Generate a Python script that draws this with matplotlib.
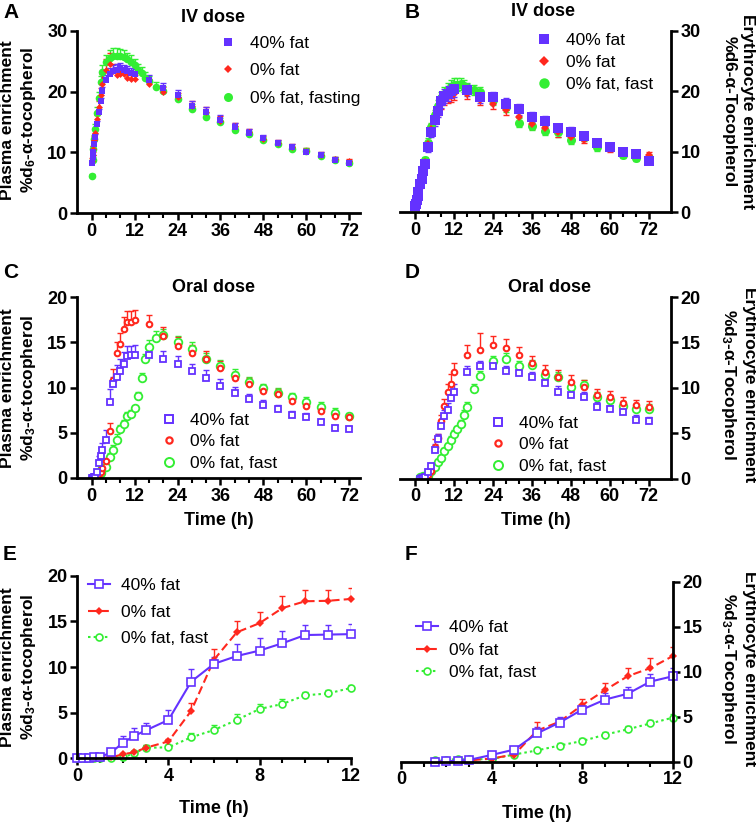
import numpy as np
import matplotlib
matplotlib.use("Agg")
import matplotlib.pyplot as plt
from matplotlib.lines import Line2D

plt.rcParams['font.family'] = ['Liberation Sans', 'DejaVu Sans']
plt.rcParams['mathtext.fontset'] = 'custom'
plt.rcParams['mathtext.rm'] = 'Liberation Sans:bold'
plt.rcParams['mathtext.it'] = 'Liberation Sans:bold:italic'
plt.rcParams['mathtext.bf'] = 'Liberation Sans:bold'
plt.rcParams['mathtext.default'] = 'rm'

# ── Time points (h) ───────────────────────────────────────────
t_main = [0, 0.25, 0.5, 0.75, 1, 1.5, 2, 2.5, 3, 4, 5, 6, 7, 8, 9, 10, 11, 12,
          16, 20, 24, 28, 32, 36, 40, 44, 48, 52, 56, 60, 64, 68, 72]
t_fast = [0, 0.25, 0.5, 0.75, 1, 1.5, 2, 2.5, 3, 4, 5, 6, 7, 8, 9, 10, 11, 12,
          13, 14, 15, 16, 18, 20, 24, 28, 32, 36, 40, 44, 48, 52, 56, 60, 64, 68, 72]
t_ery = [1.5, 2, 2.5, 3, 4, 5, 6, 7, 8, 9, 10, 11, 12,
         16, 20, 24, 28, 32, 36, 40, 44, 48, 52, 56, 60, 64, 68, 72]
t_ery_fast = [1.5, 2, 2.5, 3, 4, 5, 6, 7, 8, 9, 10, 11, 12, 13, 14, 15, 16, 18, 20,
              24, 28, 32, 36, 40, 44, 48, 52, 56, 60, 64, 68, 72]

# ── A: IV dose, plasma (%d6) ──────────────────────────────────
a_40 = [8.2, 9.3, 10.1, 11.4, 12.5, 14.6, 16.6, 18.4, 20.1, 21.9, 22.9, 23.4, 23.6, 23.8,
        23.5, 23.4, 23.1, 22.9, 21.9, 20.5, 19.4, 17.6, 16.6, 15.3, 14.2, 13.2, 12.3,
        11.6, 10.9, 10.05, 9.55, 8.7, 8.2]
a_40_err = [0.3, 0.3, 0.4, 0.4, 0.5, 0.5, 0.6, 0.6, 0.7, 0.8, 0.9, 0.9, 0.9, 0.9, 0.8,
            0.8, 0.8, 0.8, 0.8, 0.9, 0.8, 0.9, 0.9, 0.8, 0.6, 0.6, 0.5, 0.5, 0.5, 0.5,
            0.5, 0.5, 0.4]
a_0 = [8.6, 9.6, 10.6, 12.0, 13.2, 15.4, 17.5, 19.5, 21.3, 23.5, 24.6, 23.3, 22.7, 22.8,
       22.9, 22.2, 22.0, 22.0, 21.3, 20.0, 19.1, 17.6, 16.7, 15.2, 14.3, 13.3, 12.2, 11.6,
       10.9, 10.2, 9.6, 8.9, 8.5]
a_0_err = [0.4, 0.5, 0.5, 0.6, 0.6, 0.8, 0.9, 1.0, 1.6, 1.8, 1.7, 1.2, 1.0, 0.9, 0.9,
           0.8, 0.7, 0.7, 0.7, 0.7, 0.6, 0.9, 0.8, 0.7, 0.6, 0.5, 0.5, 0.5, 0.5, 0.5,
           0.4, 0.4, 0.4]
a_fast = [6.15, 8.8, 10.5, 12.2, 13.8, 16.5, 19.0, 21.5, 23.2, 24.8, 25.5, 25.8, 25.9,
          25.8, 25.6, 25.3, 24.9, 24.3, 23.6, 23.1, 22.3, 21.7, 20.7, 20.1, 18.8, 17.2,
          15.8, 15.0, 13.6, 13.0, 12.0, 11.4, 10.6, 10.2, 9.4, 8.8, 8.3]
a_fast_err = [0.3, 0.5, 0.6, 0.7, 0.8, 0.9, 1.0, 1.1, 1.2, 1.2, 1.3, 1.3, 1.3, 1.2, 1.2,
              1.1, 1.1, 1.0, 1.0, 0.9, 0.9, 0.9, 0.9, 0.8, 0.7, 0.7, 0.6, 0.6, 0.6, 0.5,
              0.5, 0.5, 0.5, 0.5, 0.5, 0.4, 0.4]

# ── B: IV dose, erythrocyte (%d6) ─────────────────────────────
b_40 = [1.0, 1.4, 2.0, 2.6, 3.3, 4.6, 5.5, 6.8, 8.0, 10.8, 13.3, 15.3, 16.8, 18.3, 19.2,
        19.6, 20.0, 20.3, 20.2, 19.1, 19.0, 17.9, 17.0, 15.7, 15.1, 13.9, 13.3, 12.6,
        11.4, 10.7, 10.0, 9.6, 8.5]
b_40_err = [0.2, 0.3, 0.3, 0.4, 0.4, 0.5, 0.5, 0.6, 0.7, 0.8, 0.9, 1.0, 1.1, 1.1, 1.2,
            1.2, 1.2, 1.2, 1.0, 1.0, 0.9, 0.9, 0.9, 0.8, 0.8, 0.7, 0.7, 0.7, 0.6, 0.6,
            0.6, 0.6, 0.6]
b_0 = [0.9, 1.3, 1.9, 2.6, 3.4, 4.5, 5.6, 7.2, 8.3, 11.2, 13.8, 15.6, 17.0, 18.0, 18.7,
       19.0, 19.2, 19.5, 19.6, 18.6, 17.9, 16.9, 15.7, 14.6, 13.9, 13.2, 12.4, 12.0, 11.2,
       10.5, 10.0, 9.5, 9.4]
b_0_err = [0.2, 0.3, 0.3, 0.4, 0.4, 0.5, 0.5, 0.6, 0.6, 0.7, 0.8, 0.9, 0.9, 1.0, 1.0,
           1.0, 1.0, 1.0, 0.9, 0.9, 0.8, 0.8, 1.0, 0.8, 0.7, 0.7, 0.6, 0.6, 0.6, 0.6,
           0.5, 0.5, 0.6]
b_fast = [1.0, 1.5, 2.2, 3.0, 3.8, 5.0, 6.0, 7.3, 8.6, 11.5, 14.0, 16.0, 17.6, 18.8,
          19.6, 20.2, 20.7, 21.0, 21.1, 21.2, 20.9, 20.5, 20.2, 19.8, 18.6, 17.4, 14.8,
          14.3, 13.5, 13.2, 11.9, 12.4, 10.7, 10.9, 9.5, 9.0, 8.9]
b_fast_err = [0.2, 0.3, 0.3, 0.4, 0.4, 0.5, 0.5, 0.6, 0.6, 0.7, 0.8, 0.9, 1.0, 1.0, 1.1,
              1.1, 1.1, 1.1, 1.0, 1.0, 1.0, 0.9, 0.9, 0.9, 0.8, 0.8, 0.8, 0.7, 0.7, 0.7,
              0.6, 0.6, 0.6, 0.6, 0.5, 0.5, 0.5]

# ── C / E: oral dose, plasma (%d3) ────────────────────────────
c_40 = [0.05, 0.05, 0.05, 0.1, 0.15, 0.65, 1.7, 2.45, 3.05, 4.2, 8.4, 10.35, 11.2, 11.8,
        12.6, 13.5, 13.55, 13.6, 13.6, 13.15, 12.6, 11.85, 11.1, 10.2, 9.4, 8.7, 8.1,
        7.6, 7.0, 6.75, 6.15, 5.55, 5.4]
c_40_err = [0.05, 0.05, 0.05, 0.05, 0.1, 0.2, 0.7, 0.85, 0.8, 1.05, 1.4, 0.8, 1.3, 1.35,
            1.3, 1.1, 1.05, 1.1, 0.8, 0.9, 0.85, 0.8, 0.8, 0.75, 0.7, 0.55, 0.55, 0.5,
            0.45, 0.45, 0.4, 0.35, 0.35]
c_0 = [0.0, 0.0, 0.0, 0.02, 0.05, 0.1, 0.45, 0.65, 1.15, 1.85, 5.2, 10.8, 13.8, 14.8,
       16.45, 17.2, 17.25, 17.45, 17.0, 15.7, 14.6, 13.85, 13.1, 12.1, 11.0, 10.4, 9.65,
       9.25, 8.55, 8.0, 7.45, 6.9, 6.7]
c_0_err = [0.02, 0.02, 0.02, 0.02, 0.05, 0.1, 0.15, 0.2, 0.3, 0.3, 0.85, 1.2, 1.2, 1.2,
           1.3, 1.2, 1.2, 1.15, 1.0, 1.0, 1.0, 0.9, 0.9, 0.8, 0.7, 0.7, 0.6, 0.6, 0.5,
           0.5, 0.45, 0.4, 0.4]
c_fast = [0.0, 0.0, 0.0, 0.0, 0.0, 0.05, 0.1, 0.55, 1.15, 1.2, 2.3, 3.1, 4.2, 5.4, 5.95,
          6.9, 7.1, 7.7, 9.1, 11.1, 13.1, 14.5, 15.5, 15.8, 15.0, 14.3, 13.2, 12.4, 11.4,
          10.6, 9.9, 9.4, 8.9, 8.4, 7.9, 7.2, 6.8]
c_fast_err = [0.0, 0.0, 0.0, 0.0, 0.0, 0.05, 0.1, 0.2, 0.3, 0.3, 0.45, 0.6, 0.7, 0.5,
              0.5, 0.35, 0.4, 0.3, 0.4, 0.5, 0.6, 0.7, 0.7, 0.7, 0.7, 0.7, 0.6, 0.6, 0.6,
              0.55, 0.5, 0.5, 0.5, 0.5, 0.5, 0.5, 0.4]

# ── D / F: oral dose, erythrocyte (%d3) ───────────────────────
d_40 = [0.0, 0.05, 0.1, 0.2, 0.75, 1.35, 3.15, 4.35, 5.8, 6.9, 7.55, 8.9, 9.5, 11.75,
        12.4, 12.4, 11.8, 11.6, 11.15, 10.5, 9.55, 9.25, 9.0, 7.9, 7.65, 7.3, 6.45, 6.3]
d_40_err = [0.05, 0.05, 0.05, 0.1, 0.2, 0.25, 0.7, 0.6, 0.4, 0.7, 0.8, 0.9, 0.9, 0.6,
            0.6, 0.6, 0.6, 0.5, 0.6, 0.5, 0.6, 0.5, 0.5, 0.5, 0.5, 0.5, 0.5, 0.5]
d_0 = [0.0, 0.05, 0.1, 0.15, 0.35, 0.8, 3.45, 4.45, 6.3, 7.95, 9.5, 10.4, 11.75, 13.6,
       14.2, 14.7, 14.4, 13.6, 12.75, 11.75, 11.2, 10.65, 10.1, 9.25, 9.0, 8.35, 8.1, 7.9]
d_0_err = [0.05, 0.05, 0.05, 0.1, 0.15, 0.2, 0.95, 0.4, 0.65, 0.85, 0.9, 1.1, 0.95, 1.1,
           1.8, 1.0, 1.0, 0.9, 0.8, 0.8, 0.8, 0.75, 0.7, 0.6, 0.6, 0.6, 0.6, 0.6]
d_fast = [0.2, 0.2, 0.3, 0.25, 0.3, 0.8, 1.25, 1.8, 2.3, 3.0, 3.6, 4.25, 4.9, 5.4, 6.0,
          7.0, 7.9, 9.9, 11.3, 12.9, 13.2, 12.4, 12.5, 11.4, 11.15, 10.1, 10.3, 9.0, 8.7,
          8.0, 7.65, 7.7]
d_fast_err = [0.05, 0.05, 0.05, 0.05, 0.1, 0.15, 0.2, 0.3, 0.3, 0.35, 0.35, 0.4, 0.4,
              0.4, 0.45, 0.5, 0.5, 0.5, 0.6, 0.6, 0.6, 0.6, 0.6, 0.6, 0.6, 0.5, 0.5,
              0.5, 0.5, 0.5, 0.5, 0.5]

labels_iv = ["40% fat", "0% fat", "0% fat, fasting"]
labels = ["40% fat", "0% fat", "0% fat, fast"]

C40, C0, CF = "#6432FF", "#FF281E", "#33EE33"
W, H = 756, 823
TICK_FS, LAB_FS, LEG_FS = 13, 12.5, 12.5

fig = plt.figure(figsize=(W / 100, H / 100), dpi=100)


def px_axes(left, top, right, bottom):
    return fig.add_axes([left / W, 1 - bottom / H, (right - left) / W, (bottom - top) / H])


def style(ax, side, xlim, ylim, xmaj, xmin, ymaj):
    ax.set_xlim(*xlim)
    ax.set_ylim(*ylim)
    ax.patch.set_alpha(0)
    ax.spines["top"].set_visible(False)
    hide = "right" if side == "left" else "left"
    ax.spines[hide].set_visible(False)
    for s in ("bottom", side):
        ax.spines[s].set_linewidth(2)
        ax.spines[s].set_zorder(10)
    if side == "right":
        ax.yaxis.tick_right()
    ax.set_xticks(xmaj)
    ax.set_xticks(xmin, minor=True)
    ax.set_yticks(ymaj)
    ax.tick_params(which="major", length=5, width=1.8, labelsize=TICK_FS, pad=2)
    ax.tick_params(which="minor", length=3.5, width=1.5)
    ax.tick_params(axis="y", which="minor", length=0)
    for lb in ax.get_xticklabels() + ax.get_yticklabels():
        lb.set_fontweight("bold")


def err(ax, t, y, e, color, both=False, z=2):
    t, y, e = np.asarray(t), np.asarray(y), np.asarray(e)
    lo = y - e if both else y
    ax.vlines(t, lo, y + e, colors=color, lw=1.0, zorder=z)
    ax.plot(t, y + e, ls="none", marker="_", ms=5, mew=1.0, color=color, zorder=z)
    if both:
        ax.plot(t, y - e, ls="none", marker="_", ms=5, mew=1.0, color=color, zorder=z)


def legend(ax, handles, labs, left, top, spacing, hlen, pad):
    ax.legend(handles, labs, loc="upper left", bbox_to_anchor=(left / W, 1 - top / H),
              bbox_transform=fig.transFigure, frameon=False, borderaxespad=0,
              borderpad=0, labelspacing=spacing, handlelength=hlen, handletextpad=pad,
              fontsize=LEG_FS)


def ylab(x, y, text, rot):
    fig.text(x / W, 1 - y / H, text, rotation=rot, ha="center", va="center",
             fontsize=LAB_FS, fontweight="bold", linespacing=1.25, multialignment="center")


def title(x, y, text):
    fig.text(x / W, 1 - y / H, text, ha="center", va="center", fontsize=13,
             fontweight="bold")


def letter(x, y, text):
    fig.text(x / W, 1 - y / H, text, ha="left", va="center", fontsize=15,
             fontweight="bold")


def xlab(ax, pad):
    ax.set_xlabel("Time (h)", fontsize=13, fontweight="bold", labelpad=pad)


long_maj = np.arange(0, 73, 12)
long_min = np.arange(0, 73, 4)

# ── Panel A ───────────────────────────────────────────────────
ax = px_axes(77, 30.7, 360, 213.1)
style(ax, "left", (-4.1, 75), (0, 30), long_maj, long_min, [0, 10, 20, 30])
err(ax, t_fast, a_fast, a_fast_err, CF)
err(ax, t_main, a_0, a_0_err, C0)
err(ax, t_main, a_40, a_40_err, C40)
ax.plot(t_fast, a_fast, ls="none", marker="o", ms=5.5, color=CF, mew=0, zorder=3)
ax.plot(t_main, a_0, ls="none", marker="D", ms=3.5, color=C0, mew=0, zorder=4)
ax.plot(t_main, a_40, ls="none", marker="s", ms=5, color=C40, mew=0, zorder=5)
h = [Line2D([], [], ls="none", marker="s", ms=6, color=C40, mew=0),
     Line2D([], [], ls="none", marker="D", ms=4, color=C0, mew=0),
     Line2D([], [], ls="none", marker="o", ms=6.5, color=CF, mew=0)]
legend(ax, h, labels_iv, 219, 36, 0.7, 1.0, 0.76)

# ── Panel B ───────────────────────────────────────────────────
ax = px_axes(400, 30.7, 671, 212.2)
style(ax, "right", (-4.7, 78.9), (0, 30), long_maj, long_min, [0, 10, 20, 30])
err(ax, t_fast, b_fast, b_fast_err, CF, both=True)
err(ax, t_main, b_0, b_0_err, C0, both=True)
err(ax, t_main, b_40, b_40_err, C40, both=True)
ax.plot(t_fast, b_fast, ls="none", marker="o", ms=6.5, color=CF, mew=0, zorder=3)
ax.plot(t_main, b_0, ls="none", marker="D", ms=4.5, color=C0, mew=0, zorder=4)
ax.plot(t_main, b_40, ls="none", marker="s", ms=6.5, color=C40, mew=0, zorder=5)
h = [Line2D([], [], ls="none", marker="s", ms=7.5, color=C40, mew=0),
     Line2D([], [], ls="none", marker="D", ms=5, color=C0, mew=0),
     Line2D([], [], ls="none", marker="o", ms=7.5, color=CF, mew=0)]
legend(ax, h, labels, 535, 33, 0.4, 1.0, 0.76)

# ── Panel C ───────────────────────────────────────────────────
ax = px_axes(77, 297, 360, 478)
style(ax, "left", (-4.1, 75), (0, 20), long_maj, long_min, [0, 5, 10, 15, 20])
err(ax, t_fast, c_fast, c_fast_err, CF)
err(ax, t_main, c_0, c_0_err, C0)
err(ax, t_main, c_40, c_40_err, C40)
ax.plot(t_fast, c_fast, ls="none", marker="o", ms=5.5, mfc="white", mec=CF, mew=1.3, zorder=3)
ax.plot(t_main, c_0, ls="none", marker="o", ms=4, mfc="white", mec=C0, mew=1.5, zorder=4)
ax.plot(t_main, c_40, ls="none", marker="s", ms=5, mfc="white", mec=C40, mew=1.3, zorder=5)
xlab(ax, 5)
h = [Line2D([], [], ls="none", marker="s", ms=6, mfc="white", mec=C40, mew=1.4),
     Line2D([], [], ls="none", marker="o", ms=4.5, mfc="white", mec=C0, mew=1.6),
     Line2D([], [], ls="none", marker="o", ms=6.5, mfc="white", mec=CF, mew=1.4)]
legend(ax, h, labels, 160, 413, 0.35, 1.0, 0.7)

# ── Panel D ───────────────────────────────────────────────────
ax = px_axes(400, 297, 671, 478.5)
style(ax, "right", (-4.7, 78.9), (0, 20), long_maj, long_min, [0, 5, 10, 15, 20])
err(ax, t_ery_fast, d_fast, d_fast_err, CF)
err(ax, t_ery, d_0, d_0_err, C0)
err(ax, t_ery, d_40, d_40_err, C40)
ax.plot(t_ery_fast, d_fast, ls="none", marker="o", ms=5.5, mfc="white", mec=CF, mew=1.3, zorder=3)
ax.plot(t_ery, d_0, ls="none", marker="o", ms=4, mfc="white", mec=C0, mew=1.5, zorder=4)
ax.plot(t_ery, d_40, ls="none", marker="s", ms=5, mfc="white", mec=C40, mew=1.3, zorder=5)
xlab(ax, 5)
legend(ax, h, labels, 489, 416, 0.35, 1.0, 0.7)

# ── Panel E (first 12 h, plasma) ──────────────────────────────
n_e, n_ef = 18, 18          # points up to 12 h
short_maj = [0, 4, 8, 12]
short_min = np.arange(0, 13, 1)
ax = px_axes(77.3, 575.7, 350.7, 758.3)
style(ax, "left", (0, 12), (0, 20), short_maj, short_min, [0, 5, 10, 15, 20])
err(ax, t_fast[:n_ef], c_fast[:n_ef], c_fast_err[:n_ef], CF)
err(ax, t_main[:n_e], c_0[:n_e], c_0_err[:n_e], C0)
err(ax, t_main[:n_e], c_40[:n_e], c_40_err[:n_e], C40)
ax.plot(t_fast[:n_ef], c_fast[:n_ef], ls=(0, (1.2, 1.5)), lw=1.5, marker="o", ms=5,
        mfc="white", mec=CF, mew=1.2, color=CF, zorder=3, clip_on=False)
ax.plot(t_main[:n_e], c_0[:n_e], ls=(0, (4, 2)), lw=1.5, marker="D", ms=4, color=C0,
        mew=0, zorder=4, clip_on=False)
ax.plot(t_main[:n_e], c_40[:n_e], ls="-", lw=1.5, marker="s", ms=5.5, mfc="white",
        mec=C40, mew=1.2, color=C40, zorder=5, clip_on=False)
xlab(ax, 11)
h = [Line2D([], [], ls="-", lw=1.5, marker="s", ms=5.5, mfc="white", mec=C40, mew=1.2, color=C40),
     Line2D([], [], ls=(0, (4, 2)), lw=1.5, marker="D", ms=4, color=C0, mew=0),
     Line2D([], [], ls=(0, (1.2, 1.5)), lw=1.5, marker="o", ms=5, mfc="white", mec=CF, mew=1.2, color=CF)]
legend(ax, h, labels, 88, 578, 0.66, 1.26, 0.63)

# ── Panel F (first 12 h, erythrocyte) ─────────────────────────
n_f, n_ff = 13, 13
ax = px_axes(401, 581.7, 673, 761.7)
style(ax, "right", (0, 12), (0, 20), short_maj, short_min, [0, 5, 10, 15, 20])
err(ax, t_ery_fast[:n_ff], d_fast[:n_ff], d_fast_err[:n_ff], CF)
err(ax, t_ery[:n_f], d_0[:n_f], d_0_err[:n_f], C0)
err(ax, t_ery[:n_f], d_40[:n_f], d_40_err[:n_f], C40)
ax.plot(t_ery_fast[:n_ff], d_fast[:n_ff], ls=(0, (1.2, 1.5)), lw=1.5, marker="o", ms=5,
        mfc="white", mec=CF, mew=1.2, color=CF, zorder=3, clip_on=False)
ax.plot(t_ery[:n_f], d_0[:n_f], ls=(0, (4, 2)), lw=1.5, marker="D", ms=4, color=C0,
        mew=0, zorder=4, clip_on=False)
ax.plot(t_ery[:n_f], d_40[:n_f], ls="-", lw=1.5, marker="s", ms=5.5, mfc="white",
        mec=C40, mew=1.2, color=C40, zorder=5, clip_on=False)
xlab(ax, 12)
legend(ax, h, labels, 416, 620, 0.43, 1.26, 0.63)

# ── Axis titles, panel titles, letters ────────────────────────
ylab(19, 120, "Plasma enrichment\n%d$_6$-α-tocopherol", 90)
ylab(19, 388, "Plasma enrichment\n%d$_3$-α-tocopherol", 90)
ylab(19, 667, "Plasma enrichment\n%d$_3$-α-tocopherol", 90)
ylab(738, 112, "Erythrocyte enrichment\n%d6-α-Tocopherol", 270)
ylab(738, 385, "Erythrocyte enrichment\n%d$_3$-α-Tocopherol", 270)
ylab(738, 669, "Erythrocyte enrichment\n%d$_3$-α-Tocopherol", 270)

title(213, 17, "IV dose")
title(543, 12, "IV dose")
title(213, 288, "Oral dose")
title(549, 288, "Oral dose")

letter(3, 12, "A")
letter(405, 12, "B")
letter(3, 272, "C")
letter(405, 272, "D")
letter(3, 555, "E")
letter(405, 555, "F")

fig.savefig("out.png", dpi=100)
